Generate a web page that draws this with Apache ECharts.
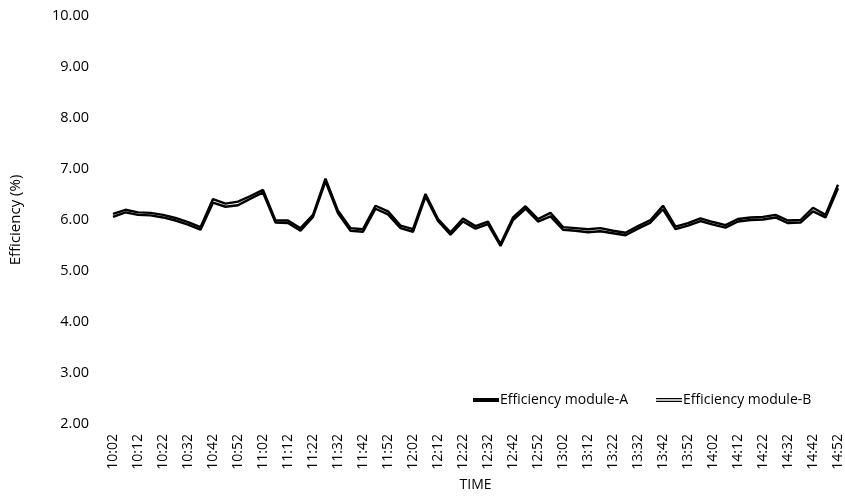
<!DOCTYPE html>
<html>
<head>
<meta charset="utf-8">
<script src="https://cdn.jsdelivr.net/npm/echarts@6/dist/echarts.min.js"></script>
<style>html,body{margin:0;padding:0;background:#fff}#c{width:845px;height:497px}</style>
</head>
<body>
<div id="c"></div>
<script>
const times = ['10:02','10:07','10:12','10:17','10:22','10:27','10:32','10:37','10:42','10:47','10:52','10:57',
  '11:02','11:07','11:12','11:17','11:22','11:27','11:32','11:37','11:42','11:47','11:52','11:57',
  '12:02','12:07','12:12','12:17','12:22','12:27','12:32','12:37','12:42','12:47','12:52','12:57',
  '13:02','13:07','13:12','13:17','13:22','13:27','13:32','13:37','13:42','13:47','13:52','13:57',
  '14:02','14:07','14:12','14:17','14:22','14:27','14:32','14:37','14:42','14:47','14:52'];
const moduleA = [6.12,6.20,6.15,6.14,6.10,6.04,5.96,5.86,6.41,6.32,6.36,6.47,6.59,5.99,5.99,5.84,6.10,6.81,6.18,5.84,5.82,6.28,6.17,5.89,5.82,6.51,6.02,5.76,6.03,5.88,5.97,5.53,6.05,6.27,6.02,6.14,5.86,5.84,5.82,5.84,5.79,5.75,5.88,6.00,6.28,5.87,5.94,6.03,5.96,5.90,6.02,6.05,6.06,6.10,5.99,6.00,6.24,6.10,6.69];
const moduleB = [6.06,6.15,6.10,6.09,6.05,5.99,5.91,5.81,6.34,6.26,6.29,6.42,6.54,5.95,5.94,5.79,6.06,6.76,6.13,5.79,5.77,6.22,6.11,5.84,5.77,6.46,5.98,5.71,5.97,5.83,5.92,5.49,6.00,6.22,5.97,6.07,5.81,5.79,5.76,5.78,5.74,5.70,5.83,5.95,6.21,5.82,5.89,5.98,5.91,5.85,5.97,6.00,6.01,6.05,5.94,5.95,6.17,6.05,6.62];
const seriesNames = ['Efficiency module-A','Efficiency module-B'];
const yMin = 2, yMax = 10, yStep = 1;

const font = "'Open Sans', 'DejaVu Sans', sans-serif";
const chart = echarts.init(document.getElementById('c'), null, {renderer:'canvas'});
chart.setOption({
  animation: false,
  textStyle: {fontFamily: font, color: '#000'},
  grid: {left: 112, right: 7, top: 16, bottom: 57, containLabel: false},
  legend: {
    left: 468, top: 388, itemWidth: 26, itemHeight: 4, itemGap: 28,
    textStyle: {fontFamily: font, fontSize: 14, color: '#000', padding: [0,0,0,-4]},
    data: [
      {name: seriesNames[0], icon: 'rect', itemStyle: {color: '#000', borderWidth: 0}},
      {name: seriesNames[1], icon: 'path://M0,0H26V4H0Z M0,1.3V2.7H26V1.3Z', itemStyle: {color: '#000', borderWidth: 0}}
    ]
  },
  xAxis: {
    type: 'category', data: times, boundaryGap: false,
    name: 'TIME', nameLocation: 'middle', nameGap: 54,
    nameTextStyle: {fontFamily: font, fontSize: 14, color: '#000'},
    axisLine: {show: false}, axisTick: {show: false},
    axisLabel: {interval: 1, rotate: 90, margin: 10, fontSize: 14, color: '#000', fontFamily: font},
    splitLine: {show: false}
  },
  yAxis: {
    type: 'value', min: yMin, max: yMax, interval: yStep,
    name: 'Efficiency (%)', nameLocation: 'middle', nameGap: 90,
    nameTextStyle: {fontFamily: font, fontSize: 15, color: '#000'},
    axisLine: {show: false}, axisTick: {show: false}, splitLine: {show: false},
    axisLabel: {margin: 24, fontSize: 14.5, color: '#000', fontFamily: font, formatter: v => v.toFixed(2)}
  },
  series: [
    {name: seriesNames[1], type: 'line', data: moduleB, showSymbol: false, symbol: 'none',
     lineStyle: {color: '#000', width: 2.4}, itemStyle: {color: '#000'}},
    {name: seriesNames[0], type: 'line', data: moduleA, showSymbol: false, symbol: 'none',
     lineStyle: {color: '#000', width: 2.4}, itemStyle: {color: '#000'}}
  ]
});
</script>
</body>
</html>
